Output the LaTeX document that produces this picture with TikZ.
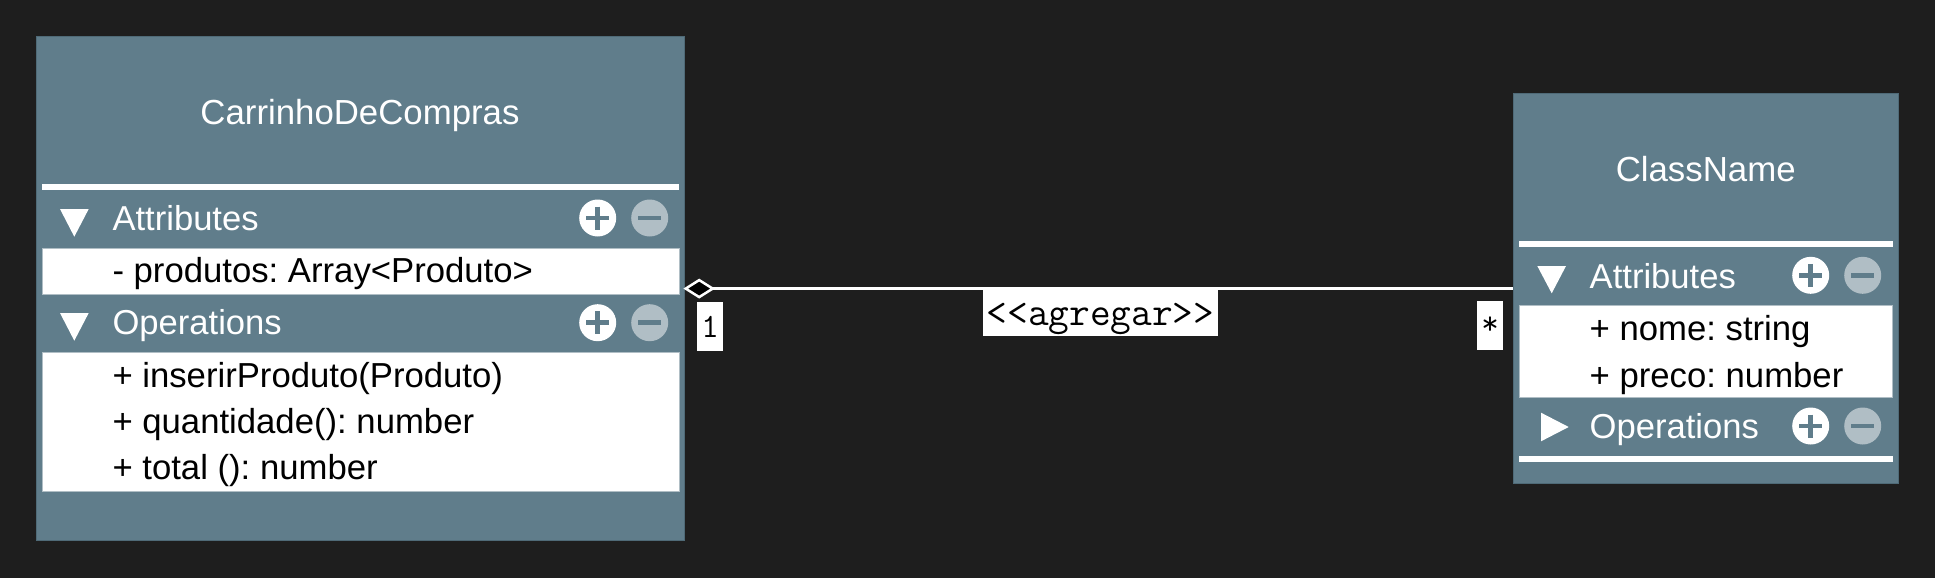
\documentclass[tikz,border=0pt]{standalone}
\usepackage{fontspec}
\setmainfont{Liberation Sans}
\usetikzlibrary{shapes.geometric}
\definecolor{bgdark}{HTML}{1E1E1E}
\definecolor{classfill}{HTML}{607D8B}
\definecolor{classline}{HTML}{4F6A77}
\definecolor{rowline}{HTML}{B0BEC5}
\tikzset{
  classbox/.style={rectangle, draw=classline, line width=0.8pt, fill=classfill, anchor=north west, inner sep=0pt, outer sep=0pt},
  rowbox/.style={rectangle, draw=rowline, line width=0.8pt, fill=white, anchor=north west, inner sep=0pt, outer sep=0pt},
  sepbar/.style={rectangle, fill=white, anchor=north west, inner sep=0pt, outer sep=0pt},
  head/.style={text=white, font=\frenchspacing\fontsize{34.8}{40}\selectfont, anchor=base},
  section/.style={text=white, font=\frenchspacing\fontsize{34.6}{40}\selectfont, anchor=base west, inner sep=0pt},
  member/.style={text=black, font=\frenchspacing\fontsize{34.7}{40}\selectfont, anchor=base west, inner sep=0pt},
  endlabel/.style={rectangle, fill=white, text=black, inner sep=0pt, font=\ttfamily\fontsize{34}{40}\selectfont},
  btnadd/.style={circle, fill=white, minimum size=37pt, inner sep=0pt},
  btndel/.style={circle, fill=rowline, minimum size=37pt, inner sep=0pt},
  glyph/.style={draw=classfill, line width=4.7pt},
  assoc/.style={draw=white, line width=2.5pt},
}
\newcommand{\btnpair}[3]{%
  \node[btnadd] (#3add) at (#1, #2) {};
  \node[btndel] (#3del) at (#1+52, #2) {};
  \draw[glyph] (#1-11.5, #2) -- (#1+11.5, #2);
  \draw[glyph] (#1, #2-11.5) -- (#1, #2+11.5);
  \draw[glyph] (#1+40.5, #2) -- (#1+63.5, #2);
}
\begin{document}
\begin{tikzpicture}[x=1pt, y=-1pt]
  \node[rectangle, fill=bgdark, anchor=north west, inner sep=0pt, outer sep=0pt, minimum width=1935pt, minimum height=578pt] (canvas) at (0, 0) {};
  \useasboundingbox (canvas.north west) rectangle (canvas.south east);

  % left class
  \node[classbox, minimum width=648.7pt, minimum height=504.7pt] (cart) at (36, 36) {};
  \node[head] (carttitle) at (360, 124) {CarrinhoDeCompras};
  \node[sepbar, minimum width=637pt, minimum height=5.7pt] (cartsep) at (42.3, 184.3) {};
  \fill[white] (60, 209) -- (88.7, 209) -- (74.3, 236.7) -- cycle;
  \node[section] (cartattr) at (112.3, 230) {Attributes};
  \btnpair{597.7}{218}{cartattr}
  \node[rowbox, minimum width=637pt, minimum height=46pt] (cartattrs) at (42.3, 248.3) {};
  \node[member] (produtos) at (112.3, 282.7) {- produtos: Array<Produto>};
  \fill[white] (60, 313) -- (88.7, 313) -- (74.3, 340.7) -- cycle;
  \node[section] (cartops) at (112.3, 334) {Operations};
  \btnpair{597.7}{322.7}{cartops}
  \node[rowbox, minimum width=637pt, minimum height=139pt] (cartopers) at (42.3, 352.3) {};
  \node[member] (inserir) at (112.3, 387) {+ inserirProduto(Produto)};
  \node[member] (quantidade) at (112.3, 433.3) {+ quantidade(): number};
  \node[member] (total) at (112.3, 479.2) {+ total (): number};

  % right class
  \node[classbox, minimum width=384.7pt, minimum height=390.3pt] (item) at (1513.3, 93) {};
  \node[head] (itemtitle) at (1705.7, 181) {ClassName};
  \node[sepbar, minimum width=373.4pt, minimum height=5.7pt] (itemsep) at (1519.3, 241.3) {};
  \fill[white] (1537.3, 266) -- (1566, 266) -- (1551.7, 293.3) -- cycle;
  \node[section] (itemattr) at (1589.5, 288.7) {Attributes};
  \btnpair{1810.7}{275.3}{itemattr}
  \node[rowbox, minimum width=373.4pt, minimum height=92.4pt] (itemattrs) at (1519.3, 305.3) {};
  \node[member] (nome) at (1589.5, 340) {+ nome: string};
  \node[member] (preco) at (1589.5, 387) {+ preco: number};
  \fill[white] (1541, 412.7) -- (1568.7, 427) -- (1541, 441.3) -- cycle;
  \node[section] (itemops) at (1589.5, 438.2) {Operations};
  \btnpair{1810.7}{426}{itemops}
  \node[sepbar, minimum width=373.4pt, minimum height=5.4pt] (itemend) at (1519.3, 456.3) {};

  % aggregation
  \node[diamond, draw=white, fill=black, line width=2.5pt, inner sep=0pt, outer sep=0pt, minimum width=27pt, minimum height=17pt] (hub) at (699.2, 288.6) {};
  \draw[assoc] (hub.east) -- (hub.east -| item.west);
  \node[endlabel, font=\ttfamily\fontsize{40.2}{44}\selectfont, minimum width=235pt, text height=38.3pt, text depth=10.7pt] (agregar) at (1100.5, 311.5) {<<agregar>>};
  \node[endlabel, minimum width=26pt, text height=35.8pt, text depth=13.2pt] (one) at (710.2, 326) {1};
  \node[endlabel, minimum width=26pt, text height=33pt, text depth=16pt] (many) at (1490, 325.8) {*};
\end{tikzpicture}
\end{document}
